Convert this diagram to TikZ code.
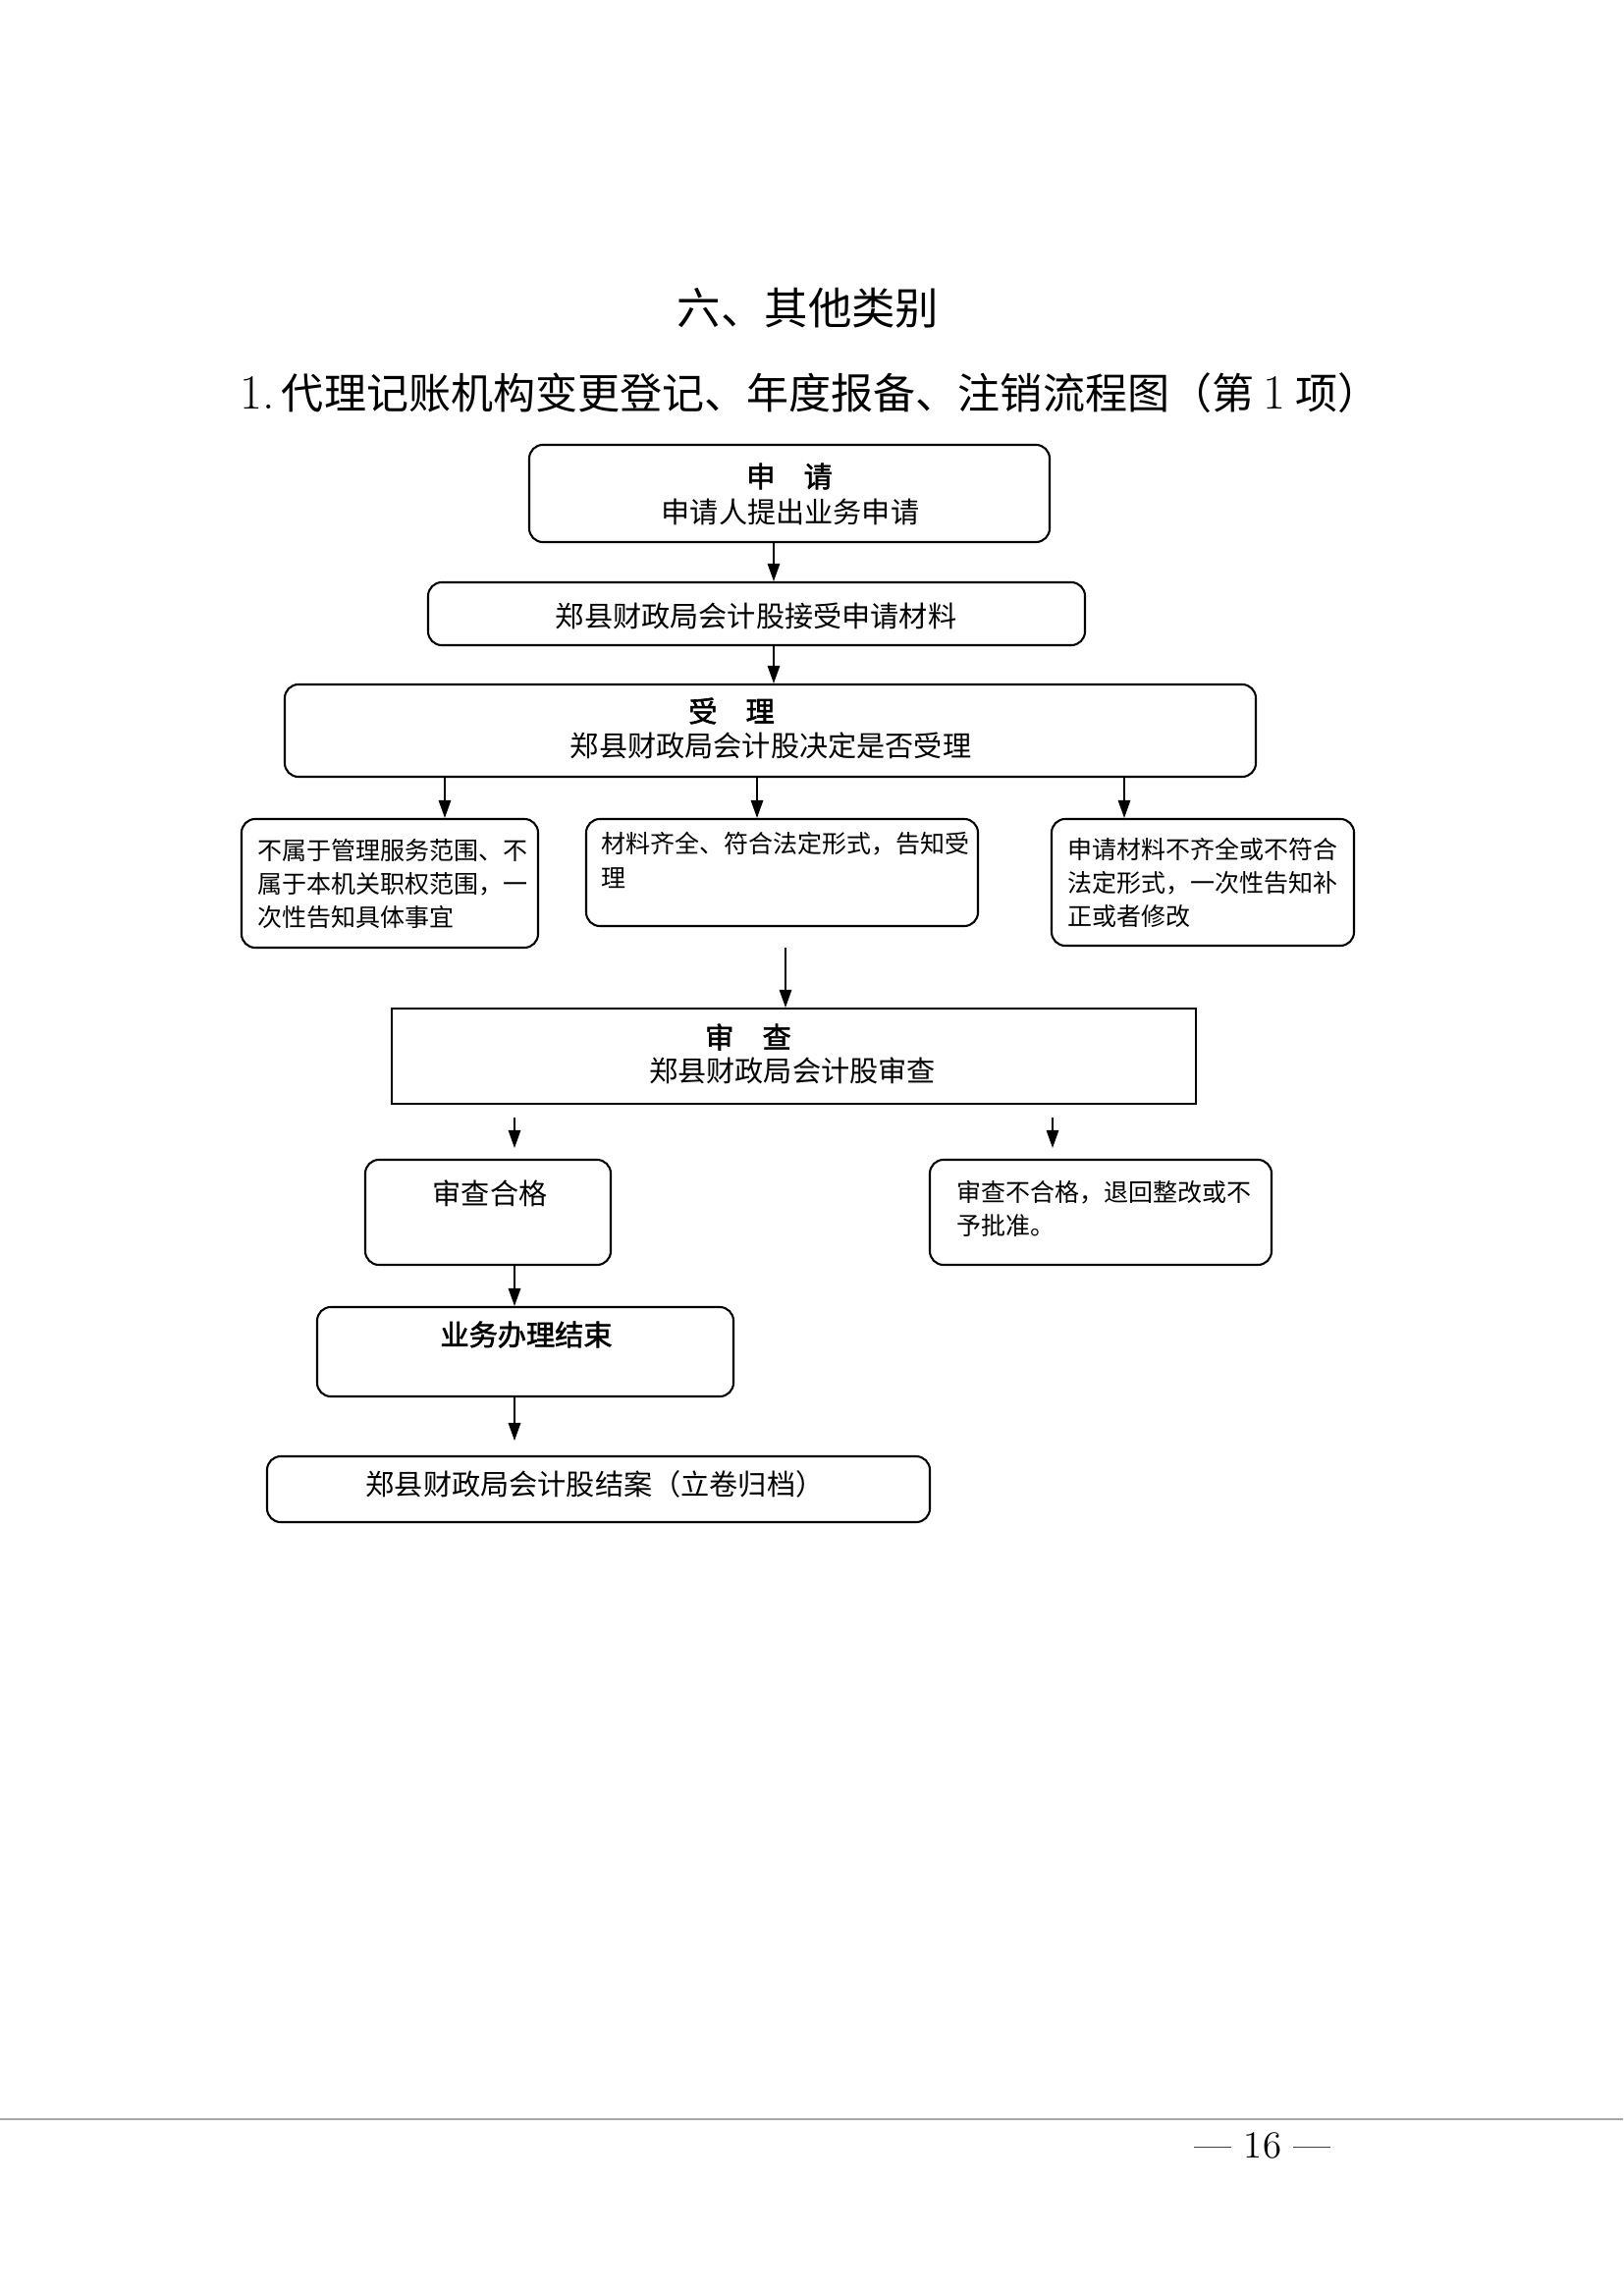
\documentclass[tikz,border=0pt]{standalone}
\usepackage{fontspec}
\newfontfamily\cjk{Noto Sans CJK SC}[AutoFakeBold=2]
\usetikzlibrary{arrows.meta,fit}

\begin{document}
\begin{tikzpicture}[x=0.36bp,y=-0.36bp,
    box/.style={draw,line width=0.75bp,rounded corners=5bp,inner sep=0pt},
    flow/.style={line width=0.55bp,-{Triangle[length=6.5bp,width=4.5bp]}},
    big/.style={font=\cjk\fontsize{10.5bp}{13bp}\selectfont,inner sep=0pt,align=center},
    small/.style={font=\cjk\fontsize{9bp}{12.3bp}\selectfont,inner sep=0pt,align=left}]
  \useasboundingbox[fill=white] (0,0) rectangle (1653,2336);

  % headings
  \node[font=\cjk\fontsize{16bp}{19bp}\selectfont] (title) at (823,314) {六、其他类别};
  \node[font=\cjk\fontsize{15.5bp}{18bp}\selectfont] (sub) at (825,400)
    {{\rmfamily\fontsize{18bp}{18bp}\selectfont 1.}\,代理记账机构变更登记、年度报备、注销流程图（第 {\rmfamily\fontsize{18bp}{18bp}\selectfont 1} 项）};

  % boxes
  \node[box,fit={(539,453) (1069,552)}] (sq) {};
  \node[big] (sqt) at (804,485) {\textbf{申\quad 请}};
  \node[big] (sql) at (805,521) {申请人提出业务申请};
  \node[box,fit={(436,593) (1105,657)}] (js) {};
  \node[big] (jst) at (770,627) {郑县财政局会计股接受申请材料};
  \node[box,fit={(290,697) (1279,791)}] (sl) {};
  \node[big] (slt) at (745,724) {\textbf{受\quad 理}};
  \node[big] (sll) at (785,759) {郑县财政局会计股决定是否受理};

  \node[box,fit={(246,834) (548,965)}] (bs) {};
  \node[small,anchor=west] (bst) at (262,900) {不属于管理服务范围、不\\属于本机关职权范围，一\\次性告知具体事宜};
  \node[box,fit={(597,834) (996,943)}] (hf) {};
  \node[small,anchor=west] (hft) at (612,876) {材料齐全、符合法定形式，告知受\\理};
  \node[box,fit={(1071,834) (1379,963)}] (br) {};
  \node[small,anchor=west] (brt) at (1087,899) {申请材料不齐全或不符合\\法定形式，一次性告知补\\正或者修改};

  \node[draw,line width=0.75bp,inner sep=0pt,fit={(399,1027) (1218,1124)}] (sc) {};
  \node[big] (sct) at (762,1056) {\textbf{审\quad 查}};
  \node[big] (scl) at (807,1090) {郑县财政局会计股审查};

  \node[box,fit={(372,1181) (622,1288)}] (hg) {};
  \node[big] (hgt) at (499,1215) {审查合格};
  \node[box,fit={(947,1181) (1295,1288)}] (bhg) {};
  \node[small,anchor=west] (bhgt) at (974,1231) {审查不合格，退回整改或不\\予批准。};

  \node[box,fit={(323,1331) (747,1422)}] (jd) {};
  \node[big] (jdt) at (536,1359) {\textbf{业务办理结束}};
  \node[box,fit={(272,1483) (947,1550)}] (ja) {};
  \node[big] (jat) at (606,1511) {郑县财政局会计股结案（立卷归档）};

  % arrows
  \coordinate (x1) at (788,0);
  \draw[flow] (sq.south -| x1) -- (js.north -| x1);
  \draw[flow] (js.south -| x1) -- (sl.north -| x1);
  \draw[flow] (sl.south -| 453,0) -- (bs.north -| 453,0);
  \draw[flow] (sl.south -| 771,0) -- (hf.north -| 771,0);
  \draw[flow] (sl.south -| 1145,0) -- (br.north -| 1145,0);
  \coordinate (p1) at (800,965);
  \draw[flow] (p1) -- (sc.north -| p1);
  \coordinate (p2) at (524,1138);
  \coordinate (p3) at (524,1169);
  \draw[flow] (p2) -- (p3);
  \coordinate (p4) at (1072,1138);
  \coordinate (p5) at (1072,1169);
  \draw[flow] (p4) -- (p5);
  \draw[flow] (hg.south -| p2) -- (jd.north -| p2);
  \coordinate (p6) at (524,1467);
  \draw[flow] (jd.south -| p6) -- (p6);

  % page foot
  \draw[gray!70,line width=0.4bp] (0,2158) -- (1653,2158);
  \node[font=\fontsize{14bp}{17bp}\selectfont] (page) at (1286,2185) {— 16 —};
\end{tikzpicture}
\end{document}
